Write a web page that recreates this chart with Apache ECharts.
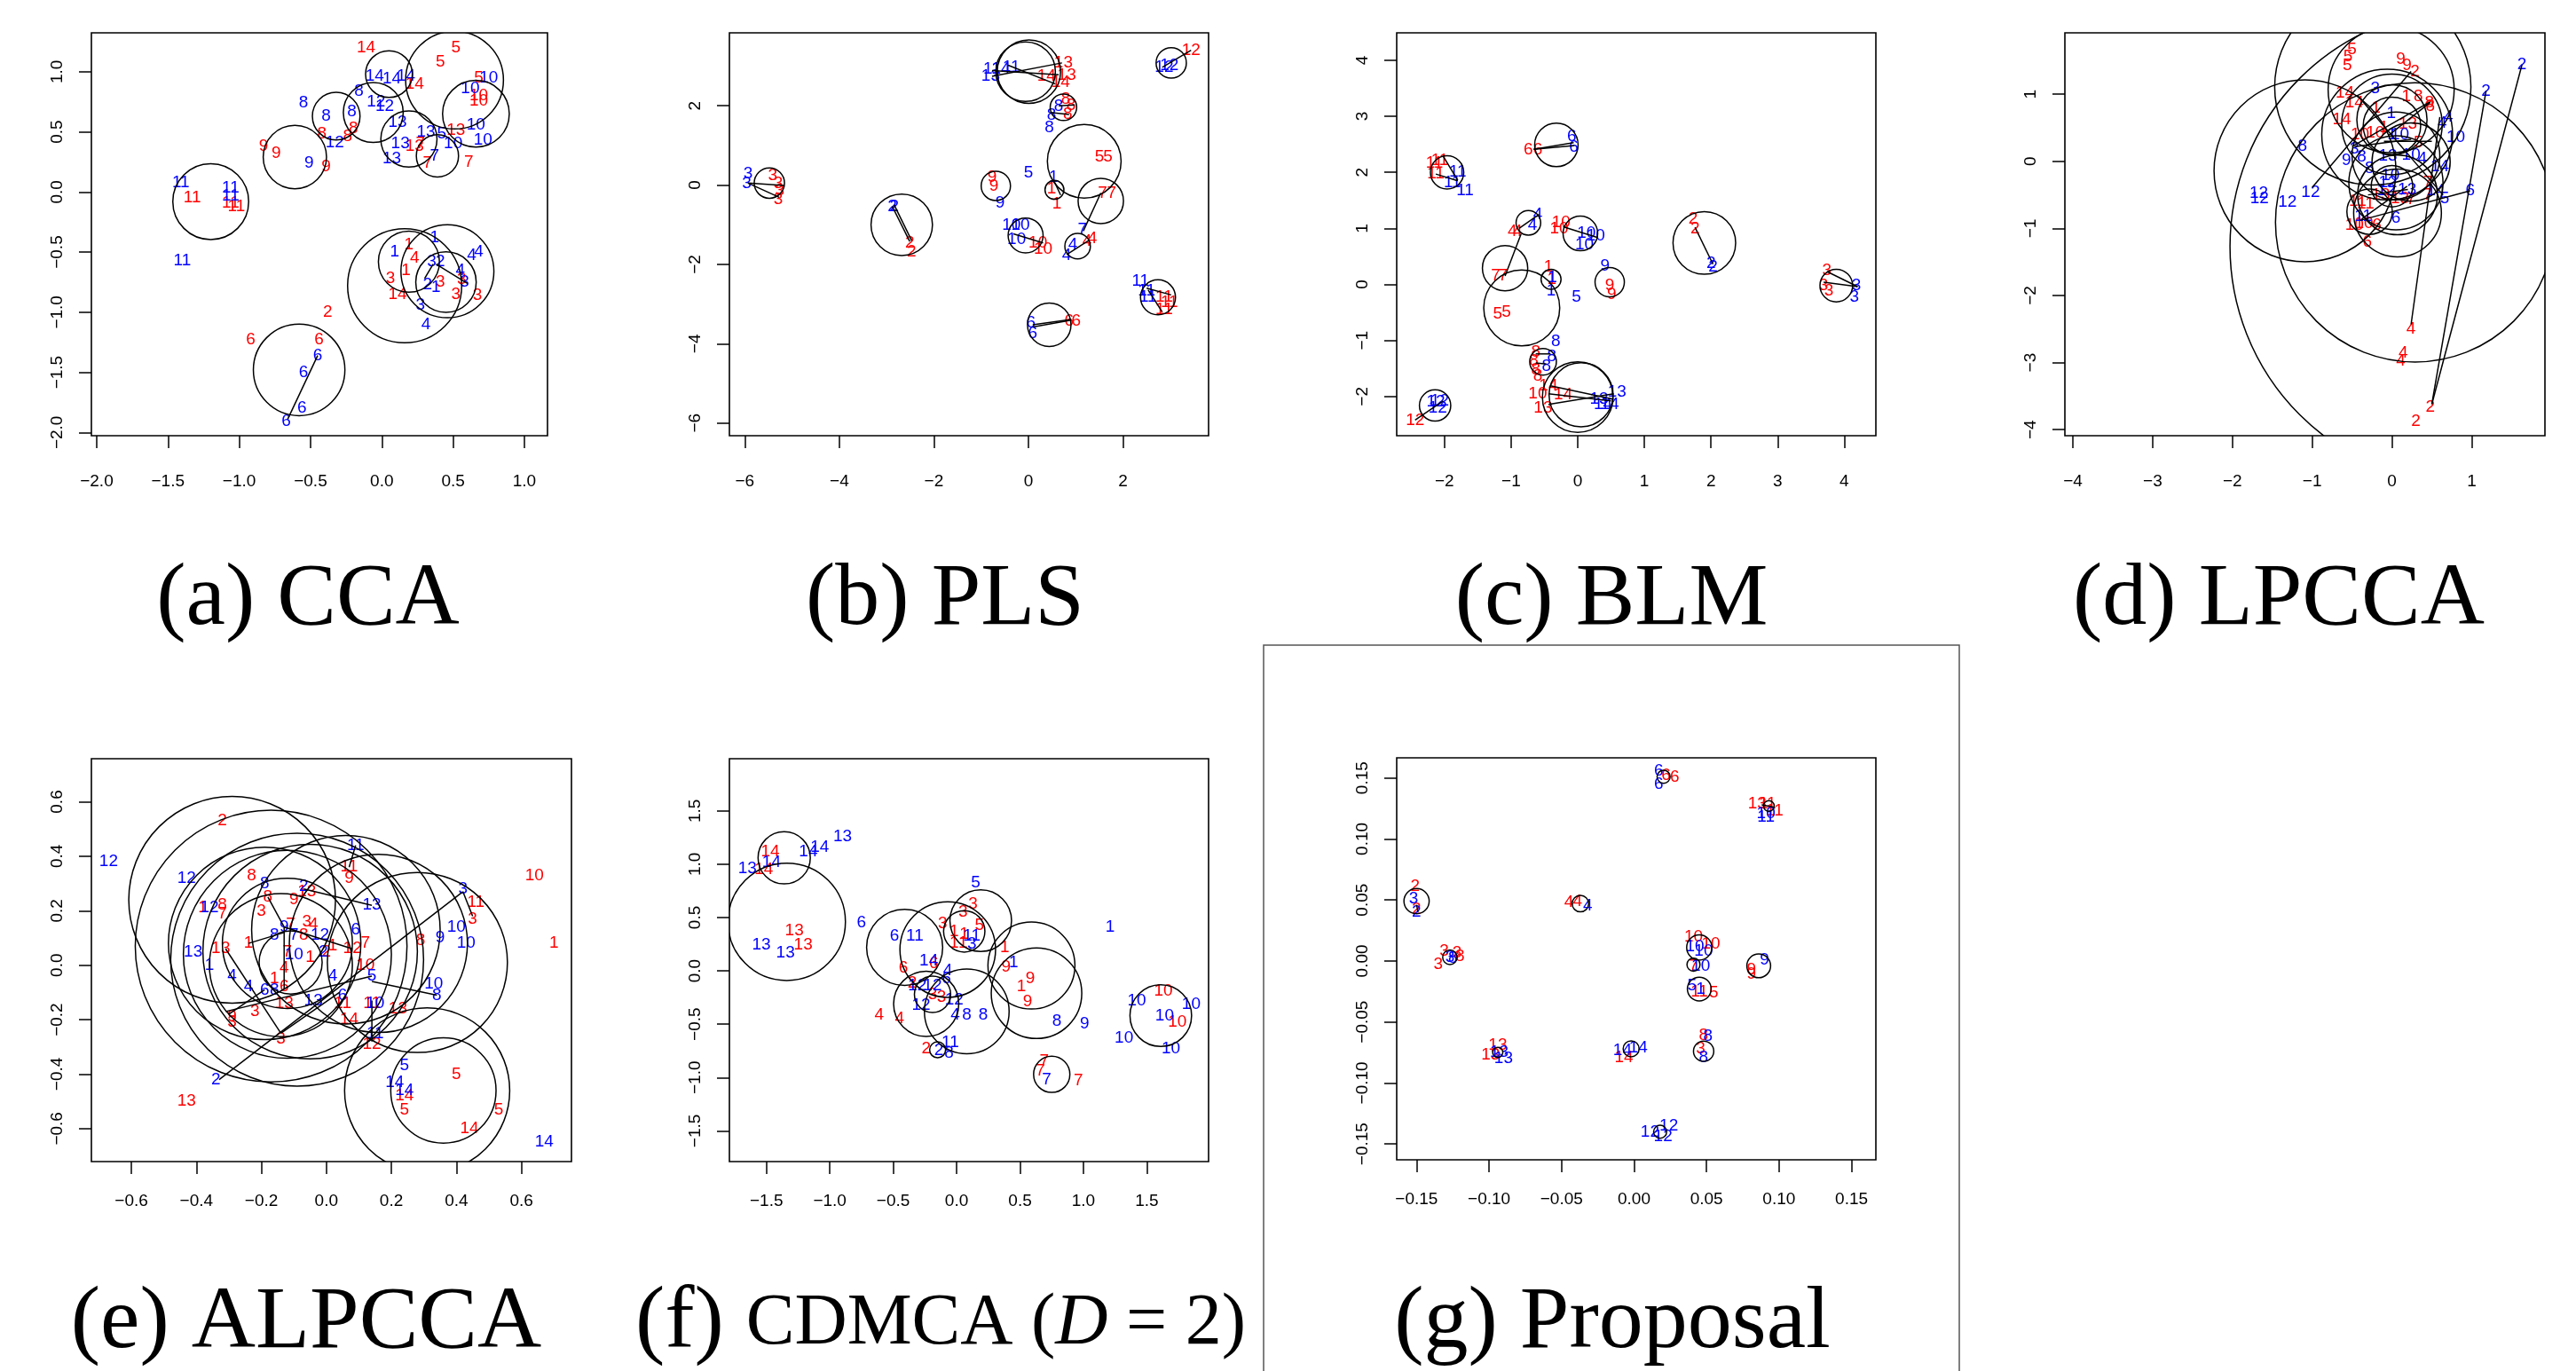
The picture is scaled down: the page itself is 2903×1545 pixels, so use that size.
<!DOCTYPE html>
<html>
<head>
<meta charset="utf-8">
<script src="https://cdn.jsdelivr.net/npm/echarts@6/dist/echarts.min.js"></script>
<style>
  html, body { margin: 0; padding: 0; background: #fff; }
  #main { width: 2903px; height: 1545px; }
</style>
</head>
<body>
<div id="main"></div>
<script>
// ---- data: [x, y, label] for the two views, [x, y, r] circles, [x1, y1, x2, y2] links ----

// (a) CCA
const aRed = [[-0.11,1.20,14],[0.52,1.20,5],[0.41,1.08,5],[0.68,0.95,5],[0.23,0.90,14],[0.68,0.80,10],[0.68,0.76,10],
  [-0.42,0.48,8],[-0.24,0.46,8],[-0.20,0.53,8],[-0.83,0.38,9],[-0.74,0.32,9],[-0.39,0.21,9],
  [0.52,0.51,13],[0.23,0.38,13],[0.27,0.40,7],[0.32,0.24,7],[0.61,0.25,7],
  [-1.33,-0.05,11],[-1.06,-0.09,11],[-1.02,-0.12,11],
  [0.19,-0.44,1],[0.23,-0.55,4],[0.17,-0.65,1],[0.06,-0.72,3],[0.11,-0.85,14],[0.41,-0.75,3],[0.56,-0.73,3],[0.52,-0.85,3],[0.67,-0.86,3],
  [-0.38,-1.00,2],[-0.92,-1.23,6],[-0.44,-1.23,6]];
const aBlue = [[-0.05,0.96,14],[0.07,0.94,14],[0.17,0.96,14],[0.75,0.95,10],[0.62,0.86,10],[-0.16,0.84,8],[-0.55,0.74,8],[-0.39,0.63,8],[-0.21,0.67,8],
  [-0.04,0.75,12],[0.02,0.71,12],[0.11,0.58,13],[0.31,0.50,13],[0.42,0.48,5],[0.66,0.56,10],[0.50,0.40,10],[0.71,0.43,10],[-0.33,0.41,12],[0.13,0.40,13],[0.07,0.28,13],[0.37,0.30,7],[-0.51,0.24,9],
  [-1.41,0.08,11],[-1.06,0.03,11],[-1.06,-0.03,11],[-1.40,-0.57,11],
  [0.37,-0.38,1],[0.09,-0.50,1],[0.35,-0.58,3],[0.41,-0.58,2],[0.63,-0.53,4],[0.68,-0.50,4],[0.55,-0.65,4],[0.58,-0.75,3],[0.32,-0.77,2],[0.38,-0.79,1],[0.27,-0.94,3],[0.31,-1.10,4],
  [-0.45,-1.36,6],[-0.55,-1.50,6],[-0.56,-1.80,6],[-0.67,-1.91,6]];
const aCircles = [[0.05,0.98,0.164],[0.51,0.93,0.343],[-0.32,0.63,0.167],[-0.06,0.66,0.21],[0.66,0.65,0.234],[0.19,0.44,0.197],[0.39,0.30,0.148],
  [-0.61,0.29,0.222],[-1.20,-0.08,0.266],[0.16,-0.78,0.40],[0.19,-0.58,0.214],[0.46,-0.66,0.326],[0.45,-0.75,0.212],[-0.58,-1.48,0.321]];
const aLines = [[-0.45,-1.36,-0.66,-1.89],[0.38,-0.60,0.60,-0.76],[0.30,-0.72,0.36,-0.60]];
const aTicks = [-2, -1.5, -1, -0.5, 0, 0.5, 1];

// (b) PLS
const bRed = [[3.44,3.40,12],[0.74,3.08,13],[0.81,2.77,13],[0.38,2.74,14],[0.68,2.59,14],[0.79,2.17,8],[0.90,2.02,8],[0.83,1.78,8],
  [1.50,0.72,5],[1.68,0.72,5],[-5.41,0.24,3],[-5.29,0.05,3],[-5.26,-0.14,3],[-5.29,-0.36,3],
  [-0.77,0.20,9],[-0.73,-0.02,9],[0.49,-0.10,1],[0.60,-0.48,1],[1.57,-0.20,7],[1.76,-0.20,7],
  [-2.51,-1.46,2],[-2.47,-1.69,2],[1.24,-1.42,4],[1.35,-1.35,4],[0.20,-1.46,10],[0.31,-1.61,10],
  [2.87,-2.83,11],[2.87,-3.13,11],[2.98,-2.95,11],[0.86,-3.43,6],[1.01,-3.43,6]];
const bBlue = [[2.87,2.97,12],[2.98,3.01,12],[-0.77,2.93,11],[-0.58,2.93,14],[-0.36,2.97,11],[-0.80,2.74,13],
  [0.49,1.76,8],[0.44,1.45,8],[0.64,1.98,8],[-5.93,0.28,3],[-5.96,0.05,3],[0.00,0.30,5],[0.53,0.20,1],[-0.60,-0.46,9],[-2.88,-0.54,2],[-2.84,-0.54,2],
  [-0.36,-1.02,10],[-0.17,-1.00,10],[-0.25,-1.37,10],[1.14,-1.12,7],[0.94,-1.50,4],[0.81,-1.77,4],
  [2.37,-2.41,11],[2.50,-2.67,11],[2.53,-2.83,11],[0.05,-3.47,6],[0.09,-3.73,6]];
const bCircles = [[-0.06,2.86,0.63],[0.01,2.86,0.67],[3.02,3.08,0.32],[0.74,1.96,0.28],[1.18,0.60,0.78],[-5.48,0.05,0.32],[-0.69,-0.02,0.31],
  [0.55,-0.12,0.20],[1.53,-0.40,0.48],[-2.68,-1.00,0.65],[-0.06,-1.27,0.37],[1.04,-1.54,0.27],[2.74,-2.83,0.37],[0.44,-3.52,0.46]];
const bLines = [[-0.77,2.74,0.71,3.08],[-0.43,3.02,0.57,2.55],[-0.77,2.89,0.64,2.78],[2.83,2.97,3.44,3.40],
  [-5.93,0.05,-5.17,-0.01],[-5.93,0.05,-5.27,-0.31],[-2.88,-0.54,-2.51,-1.42],[-2.84,-0.50,-2.47,-1.40],
  [0.53,0.13,0.68,-0.25],[1.16,-1.16,1.53,-0.20],[0.81,-1.75,1.27,-1.40],[-0.32,-1.23,0.31,-1.46],
  [2.50,-2.60,3.02,-2.77],[2.53,-2.64,2.83,-3.20],[0.09,-3.52,0.90,-3.39],[0.09,-3.58,0.88,-3.41],[0.64,2.00,0.98,2.02],[0.46,1.83,0.86,1.78]];
const bTicks = [-6, -4, -2, 0, 2];

// (c) BLM
const cRed = [[-2.15,2.16,11],[-2.07,2.21,11],[-2.13,1.97,11],[-0.74,2.40,6],[-0.60,2.40,6],[1.73,1.17,2],[1.76,1.00,2],
  [-0.98,0.94,4],[-0.90,0.94,4],[-0.25,1.11,10],[-0.28,1.00,10],[-0.44,0.31,1],[-1.23,0.15,7],[-1.12,0.15,7],[-0.39,0.09,1],
  [0.48,-0.02,9],[0.51,-0.18,9],[-1.20,-0.53,5],[-1.07,-0.50,5],[3.74,0.25,3],[3.69,-0.02,3],[3.77,-0.12,3],
  [-0.63,-1.20,8],[-0.66,-1.36,8],[-0.63,-1.52,8],[-0.60,-1.63,8],[-0.44,-1.81,14],[-0.22,-1.97,14],[-0.60,-1.95,10],[-0.52,-2.20,13],[-2.44,-2.42,12]];
const cBlue = [[-1.80,2.00,11],[-1.69,1.68,11],[-1.88,1.81,11],[-0.09,2.64,6],[-0.06,2.45,6],[-0.60,1.25,4],[-0.68,1.06,4],
  [0.13,0.92,10],[0.27,0.87,10],[0.10,0.71,10],[2.00,0.37,2],[2.03,0.31,2],[0.41,0.33,9],[-0.38,0.12,1],[-0.40,-0.12,1],[-0.02,-0.22,5],
  [4.18,-0.02,3],[4.15,-0.23,3],[-0.33,-1.02,8],[-0.39,-1.28,8],[-0.47,-1.46,8],
  [0.59,-1.92,13],[0.38,-2.14,14],[0.48,-2.14,14],[0.32,-2.05,13],[-2.13,-2.10,12],[-2.07,-2.08,12],[-2.10,-2.21,12]];
const cCircles = [[-0.32,2.49,0.326],[-1.96,2.00,0.25],[-0.74,1.10,0.185],[0.04,0.91,0.26],[1.90,0.74,0.47],[-1.09,0.29,0.34],[-0.40,0.09,0.15],
  [-0.84,-0.42,0.57],[0.48,0.04,0.22],[3.88,-0.02,0.245],[-0.52,-1.38,0.20],[0.00,-2.01,0.53],[0.05,-1.97,0.48],[-2.14,-2.16,0.235]];
const cLines = [[-2.02,2.29,-1.80,1.86],[-2.13,1.97,-1.80,1.85],[-0.66,2.41,-0.06,2.53],[-0.66,2.41,-0.05,2.48],[-0.88,1.00,-0.58,1.25],
  [-0.22,1.03,0.29,0.84],[1.76,1.02,2.03,0.36],[-1.09,0.15,-0.85,0.90],[3.74,0.23,4.20,-0.04],[3.69,0.04,4.20,-0.04],
  [-0.41,-1.81,0.54,-2.05],[-0.44,-1.95,0.50,-2.08],[-0.44,-2.14,0.54,-1.95],[-2.44,-2.42,-2.02,-2.08],[-0.63,-1.24,-0.41,-1.24],[-0.63,-1.40,-0.47,-1.42]];
const cTicks = [-2, -1, 0, 1, 2, 3, 4];

// (d) LPCCA
const dRed = [[-0.50,1.67,5],[-0.55,1.56,5],[-0.56,1.43,5],[0.11,1.52,9],[0.19,1.43,9],[0.29,1.34,2],
  [-0.59,1.02,14],[-0.47,0.87,14],[-0.63,0.62,14],[0.18,0.97,1],[0.33,0.97,8],[0.47,0.87,8],[0.48,0.82,8],
  [-0.40,0.40,10],[-0.21,0.42,10],[-0.20,0.80,1],[0.45,-0.32,7],[0.45,-0.50,7],[0.24,-0.57,7],
  [-0.43,-0.59,11],[-0.33,-0.64,11],[-0.14,-0.50,13],[0.10,-0.55,13],[-0.47,-0.95,10],[-0.35,-0.93,10],[-0.19,-0.95,6],[-0.31,-1.20,6],
  [0.24,-2.50,4],[0.14,-2.86,4],[0.11,-2.97,4],[0.48,-3.66,2],[0.30,-3.88,2],[0.33,0.28,5],[0.20,0.55,13],[-0.10,0.50,1]];
const dBlue = [[1.63,1.44,2],[1.18,1.05,2],[-0.21,1.09,3],[-0.01,0.71,1],[0.80,0.36,10],[0.63,0.57,4],[0.71,0.66,4],
  [-1.12,0.22,8],[-0.47,0.19,3],[-0.57,0.01,9],[-0.38,0.07,8],[-0.28,-0.10,8],[-0.05,0.08,13],[0.24,0.10,10],[0.38,0.04,4],
  [0.60,-0.08,14],[0.55,-0.44,14],[0.66,-0.55,5],[0.98,-0.44,6],[0.19,-0.42,13],[-0.02,-0.21,10],[-0.05,-0.32,12],[-0.07,-0.44,12],
  [-1.67,-0.48,12],[-1.66,-0.55,12],[-1.31,-0.61,12],[-1.02,-0.46,12],[-0.36,-0.82,11],[0.05,-0.84,6],[0.10,0.40,10],[0.00,0.40,1]];
const dCircles = [[-1.09,-0.14,1.14],[0.29,-0.91,1.75],[0.95,-1.27,2.98],[-0.24,1.11,1.23],[-0.01,1.07,0.79],[-0.06,0.40,0.82],
  [0.00,0.53,0.36],[0.00,0.62,0.44],[0.00,0.55,0.63],[0.05,0.08,0.55],[0.24,-0.01,0.49],[0.05,-0.32,0.59],[0.07,-0.50,0.50],
  [0.07,-0.77,0.55],[-0.28,-0.75,0.285],[0.00,-0.37,0.26]];
const dLines = [[1.63,1.44,0.50,-3.62],[1.18,1.05,0.50,-3.62],[0.60,0.66,0.24,-2.43],[0.98,-0.44,-0.40,-0.88],[-1.00,-0.39,0.24,1.34],
  [-0.50,0.22,0.48,0.89],[-0.43,0.98,0.64,-0.50],[-0.38,-0.86,0.19,-0.37],[-0.47,0.22,0.24,0.33],[-0.04,0.39,0.48,0.88],
  [-0.10,0.30,0.50,0.30],[-0.30,-0.50,0.20,-0.42]];
const dTicks = [-4, -3, -2, -1, 0, 1];

// (e) ALPCCA
const eRed = [[-0.32,0.53,2],[-0.23,0.33,8],[-0.38,0.21,1],[-0.32,0.22,8],[-0.32,0.19,7],[-0.20,0.20,3],[-0.18,0.25,8],[-0.10,0.24,9],[-0.06,0.27,13],
  [-0.11,0.15,7],[-0.06,0.16,3],[-0.04,0.15,4],[-0.07,0.11,8],[-0.34,0.06,1],[-0.31,0.06,3],[-0.24,0.08,1],[-0.12,0.05,7],[-0.05,0.03,1],
  [0.00,0.05,2],[0.02,0.07,1],[0.08,0.06,12],[0.12,0.08,7],[0.12,0.00,10],
  [-0.13,-0.01,4],[-0.16,-0.05,1],[-0.13,-0.08,6],[-0.13,-0.14,13],[0.05,-0.14,11],[0.07,-0.20,14],[0.14,-0.14,11],[0.22,-0.16,13],
  [-0.29,-0.19,9],[-0.22,-0.17,3],[-0.29,-0.21,3],[-0.14,-0.27,3],[0.14,-0.29,12],
  [0.07,0.36,11],[0.07,0.32,9],[0.29,0.09,8],[0.46,0.23,11],[0.45,0.17,3],[0.64,0.33,10],[0.70,0.08,1],
  [0.40,-0.40,5],[0.24,-0.48,14],[0.24,-0.53,5],[0.53,-0.53,5],[0.44,-0.60,14],[-0.43,-0.50,13]];
const eBlue = [[-0.67,0.38,12],[-0.43,0.32,12],[-0.36,0.21,12],[0.09,0.44,11],[-0.19,0.30,8],[-0.07,0.29,2],[0.14,0.22,13],[0.09,0.13,6],
  [0.35,0.10,9],[0.40,0.14,10],[0.43,0.08,10],[0.42,0.28,3],
  [-0.16,0.11,8],[-0.13,0.14,9],[-0.10,0.11,7],[-0.02,0.11,12],[-0.41,0.05,13],[-0.36,0.00,1],[-0.10,0.04,10],[-0.01,0.05,2],
  [-0.29,-0.04,4],[-0.24,-0.08,4],[-0.19,-0.09,6],[-0.16,-0.09,8],[0.02,-0.04,4],[0.05,-0.11,6],[-0.04,-0.13,13],[0.14,-0.04,5],
  [0.15,-0.14,10],[0.33,-0.07,10],[0.34,-0.11,8],[0.15,-0.25,11],
  [0.24,-0.37,5],[0.21,-0.43,14],[0.24,-0.46,14],[-0.34,-0.42,2],[0.67,-0.65,14]];
const eCircles = [[-0.29,0.24,0.318],[-0.17,0.07,0.418],[-0.09,0.02,0.389],[0.06,0.13,0.29],[-0.05,0.05,0.33],[0.16,0.08,0.274],[0.28,0.01,0.277],
  [-0.12,0.08,0.20],[-0.14,0.00,0.22],[-0.11,0.01,0.097],[0.31,-0.46,0.254],[0.36,-0.46,0.162],[-0.12,0.04,0.32],[-0.19,0.08,0.296]];
const eLines = [[0.42,0.27,-0.33,-0.42],[0.42,0.27,0.45,0.18],[-0.31,-0.17,0.14,-0.04],[0.14,-0.06,0.34,-0.11],[-0.31,0.06,-0.14,-0.25],
  [-0.14,-0.25,0.04,-0.10],[-0.07,0.28,0.14,0.22],[-0.24,0.08,-0.13,0.12],[0.07,0.36,0.09,0.44],[0.14,-0.13,0.14,-0.28],
  [-0.13,0.14,0.08,0.06],[-0.30,-0.18,-0.19,-0.09],[-0.13,0.14,-0.13,-0.09],[-0.18,0.25,-0.13,0.14]];
const eTicks = [-0.6, -0.4, -0.2, 0, 0.2, 0.4, 0.6];

// (f) CDMCA (D = 2)
const fRed = [[-1.47,1.12,14],[-1.52,0.95,14],[-1.28,0.38,13],[-1.21,0.24,13],[-0.42,0.03,6],[0.13,0.63,3],[0.05,0.55,3],[-0.11,0.44,3],
  [-0.02,0.37,1],[0.06,0.34,1],[0.18,0.43,5],[-0.02,0.26,1],[0.05,0.26,1],[0.38,0.22,1],[0.39,0.04,9],[0.58,-0.07,9],[0.56,-0.29,9],[0.51,-0.15,1],
  [-0.18,0.07,6],[-0.35,-0.11,2],[-0.12,-0.25,3],[-0.19,-0.22,3],[-0.61,-0.41,4],[-0.45,-0.45,4],[-0.24,-0.73,2],
  [1.63,-0.19,10],[1.74,-0.48,10],[0.69,-0.85,7],[0.66,-0.94,7],[0.96,-1.03,7]];
const fBlue = [[-0.90,1.26,13],[-1.17,1.12,14],[-1.08,1.16,14],[-1.46,1.02,14],[-1.65,0.96,13],[-1.54,0.24,13],[-1.35,0.17,13],[-0.75,0.45,6],
  [-0.49,0.33,6],[-0.33,0.33,11],[0.15,0.83,5],[1.21,0.41,1],[0.12,0.33,11],[0.12,0.25,3],[-0.22,0.09,14],[-0.07,0.00,4],[-0.08,-0.07,6],
  [-0.31,-0.14,12],[-0.19,-0.14,12],[-0.02,-0.27,12],[-0.28,-0.32,12],
  [-0.01,-0.41,4],[0.08,-0.41,8],[0.21,-0.41,8],[0.79,-0.47,8],[1.01,-0.50,9],[0.45,0.08,1],[-0.05,-0.67,11],[-0.14,-0.75,2],[-0.06,-0.77,8],
  [1.42,-0.28,10],[1.85,-0.31,10],[1.32,-0.63,10],[1.69,-0.73,10],[1.64,-0.42,10],[0.71,-1.02,7]];
const fCircles = [[-1.36,1.06,0.206],[-1.34,0.46,0.463],[-0.41,0.22,0.30],[-0.07,0.20,0.377],[0.19,0.47,0.243],[0.06,0.37,0.163],[0.59,0.05,0.343],
  [0.63,-0.21,0.357],[0.08,-0.38,0.334],[-0.24,-0.31,0.257],[-0.19,-0.22,0.143],[-0.15,-0.74,0.063],[0.75,-0.97,0.143],[1.61,-0.42,0.243]];
const fLines = [];
const fTicks = [-1.5, -1, -0.5, 0, 0.5, 1, 1.5];

// (g) Proposal
const gRed = [[0.022,0.152,6],[0.028,0.151,6],[0.085,0.129,13],[0.092,0.129,11],[0.097,0.123,11],[-0.151,0.061,2],[-0.150,0.042,2],
  [-0.045,0.048,4],[-0.039,0.049,4],[-0.131,0.008,3],[-0.122,0.007,3],[-0.120,0.004,8],[-0.135,-0.003,3],[0.041,0.020,10],[0.053,0.014,10],
  [0.041,-0.004,7],[0.081,-0.007,9],[0.081,-0.011,9],[0.055,-0.026,5],[0.045,-0.025,11],
  [0.048,-0.061,8],[0.046,-0.072,3],[-0.094,-0.069,13],[-0.099,-0.077,13],[-0.007,-0.079,14]];
const gBlue = [[0.017,0.156,6],[0.017,0.145,6],[0.091,0.121,10],[0.091,0.118,11],[-0.152,0.051,3],[-0.150,0.040,2],[-0.032,0.045,4],
  [-0.127,0.003,3],[-0.125,0.002,8],[0.042,0.012,10],[0.048,0.008,10],[0.046,-0.004,10],[0.090,0.001,9],[0.040,-0.020,5],[0.046,-0.023,1],
  [0.051,-0.062,8],[0.048,-0.079,8],[-0.093,-0.075,13],[-0.090,-0.080,13],[-0.008,-0.073,14],[0.003,-0.071,14],
  [0.024,-0.135,12],[0.011,-0.140,12],[0.020,-0.144,12]];
const gCircles = [[0.0204,0.151,0.0045],[0.093,0.127,0.0037],[-0.150,0.049,0.0087],[-0.037,0.047,0.0057],[-0.127,0.003,0.005],
  [0.045,0.011,0.0087],[0.041,-0.003,0.0045],[0.086,-0.004,0.0082],[0.045,-0.023,0.0082],[0.048,-0.074,0.007],[-0.002,-0.072,0.0055],
  [-0.094,-0.075,0.0035],[0.018,-0.140,0.0045]];
const gLines = [[0.088,0.128,0.097,0.126],[-0.150,0.046,-0.149,0.040]];
const gTicks = [-0.15, -0.1, -0.05, 0, 0.05, 0.1, 0.15];

// ---- layout of the seven panels ----
const boxes = [
  { left: 103,  top: 37,  width: 514, height: 454, x: [-2.037, 1.162],  y: [-2.027, 1.323],  dec: 1, xm: 42 },
  { left: 822,  top: 37,  width: 540, height: 454, x: [-6.325, 3.81],   y: [-6.318, 3.838],  dec: 0, xm: 42 },
  { left: 1574, top: 37,  width: 540, height: 454, x: [-2.716, 4.474],  y: [-2.70, 4.49],    dec: 0, xm: 42 },
  { left: 2327, top: 37,  width: 541, height: 454, x: [-4.1, 1.918],    y: [-4.09, 1.916],   dec: 0, xm: 42 },
  { left: 103,  top: 855, width: 541, height: 454, x: [-0.723, 0.754],  y: [-0.721, 0.758],  dec: 1, xm: 35 },
  { left: 822,  top: 855, width: 540, height: 454, x: [-1.792, 1.987],  y: [-1.788, 1.989],  dec: 1, xm: 35 },
  { left: 1574, top: 854, width: 540, height: 453, x: [-0.1637, 0.1668], y: [-0.163, 0.1665], dec: 2, xm: 35 }
];
const panels = [
  [aRed, aBlue, aCircles, aLines, aTicks],
  [bRed, bBlue, bCircles, bLines, bTicks],
  [cRed, cBlue, cCircles, cLines, cTicks],
  [dRed, dBlue, dCircles, dLines, dTicks],
  [eRed, eBlue, eCircles, eLines, eTicks],
  [fRed, fBlue, fCircles, fLines, fTicks],
  [gRed, gBlue, gCircles, gLines, gTicks]
];
const captions = [
  { text: '(a) CCA', x: 347, y: 627 },
  { text: '(b) PLS', x: 1065, y: 627 },
  { text: '(c) BLM', x: 1816, y: 627 },
  { text: '(d) LPCCA', x: 2568, y: 627 },
  { text: '(e) ALPCCA', x: 345, y: 1442 },
  { text: '{a|(f) }{b|CDMCA (}{i|D}{b| = 2)}', x: 1060, y: 1442 },
  { text: '(g) Proposal', x: 1817, y: 1442 }
];

const SANS = '"Liberation Sans", Arial, Helvetica, sans-serif';
const SERIF = '"Liberation Serif", "Times New Roman", Times, serif';
const LABEL_FONT = '19px ' + SANS;

function tickFormatter(dec) {
  return function (v) {
    const s = Math.abs(v).toFixed(dec);
    return (v < 0 ? '\u2212' : '') + s;
  };
}

function textRenderer(color) {
  return function (params, api) {
    const p = api.coord([api.value(0), api.value(1)]);
    return {
      type: 'text',
      x: p[0],
      y: p[1],
      style: {
        text: String(api.value(2)),
        fill: color,
        font: LABEL_FONT,
        align: 'center',
        verticalAlign: 'middle',
        textAlign: 'center',
        textVerticalAlign: 'middle'
      }
    };
  };
}

function circleRenderer(params, api) {
  const c = api.coord([api.value(0), api.value(1)]);
  const r = api.size([api.value(2), 0])[0];
  return {
    type: 'circle',
    shape: { cx: c[0], cy: c[1], r: r },
    style: { fill: 'none', stroke: '#000', lineWidth: 1.5 }
  };
}

function lineRenderer(params, api) {
  const p1 = api.coord([api.value(0), api.value(1)]);
  const p2 = api.coord([api.value(2), api.value(3)]);
  return {
    type: 'line',
    shape: { x1: p1[0], y1: p1[1], x2: p2[0], y2: p2[1] },
    style: { stroke: '#000', lineWidth: 1.5 }
  };
}

const grids = [], xAxes = [], yAxes = [], series = [];

boxes.forEach(function (b, i) {
  const ticks = panels[i][4];
  grids.push({
    left: b.left, top: b.top, width: b.width, height: b.height,
    show: true, borderColor: '#000', borderWidth: 1.6, backgroundColor: 'transparent',
    containLabel: false, outerBoundsMode: 'none'
  });
  xAxes.push({
    type: 'value', gridIndex: i, min: b.x[0], max: b.x[1], position: 'bottom', offset: 0,
    axisLine: { show: false, onZero: false }, splitLine: { show: false },
    axisTick: { show: true, length: 14, lineStyle: { color: '#000', width: 1.5 }, customValues: ticks },
    axisLabel: { customValues: ticks, formatter: tickFormatter(b.dec), margin: b.xm, fontSize: 19, fontFamily: SANS, color: '#000' }
  });
  yAxes.push({
    type: 'value', gridIndex: i, min: b.y[0], max: b.y[1], position: 'left', offset: 0,
    axisLine: { show: false, onZero: false }, splitLine: { show: false },
    axisTick: { show: true, length: 14, lineStyle: { color: '#000', width: 1.5 }, customValues: ticks },
    axisLabel: { customValues: ticks, formatter: tickFormatter(b.dec), rotate: 90, margin: 29, fontSize: 19, fontFamily: SANS, color: '#000' }
  });

  const common = { type: 'custom', xAxisIndex: i, yAxisIndex: i, clip: true, silent: true };
  series.push(Object.assign({}, common, { data: panels[i][0], encode: { x: 0, y: 1 }, renderItem: textRenderer('#ff0000') }));
  series.push(Object.assign({}, common, { data: panels[i][1], encode: { x: 0, y: 1 }, renderItem: textRenderer('#0000ff') }));
  series.push(Object.assign({}, common, { data: panels[i][2], encode: { x: 0, y: 1 }, renderItem: circleRenderer }));
  series.push(Object.assign({}, common, { data: panels[i][3], encode: { x: [0, 2], y: [1, 3] }, renderItem: lineRenderer }));
});

const titles = captions.map(function (c) {
  return {
    text: c.text, left: c.x, top: c.y, textAlign: 'center', padding: 0,
    textStyle: {
      fontFamily: SERIF, fontSize: 100, fontWeight: 'normal', color: '#000',
      rich: {
        a: { fontFamily: SERIF, fontSize: 100, color: '#000' },
        b: { fontFamily: SERIF, fontSize: 82, color: '#000' },
        i: { fontFamily: SERIF, fontSize: 82, fontStyle: 'italic', color: '#000' }
      }
    }
  };
});

const chart = echarts.init(document.getElementById('main'), null, { renderer: 'canvas' });
chart.setOption({
  backgroundColor: '#fff',
  animation: false,
  title: titles,
  grid: grids,
  xAxis: xAxes,
  yAxis: yAxes,
  series: series,
  graphic: [{
    type: 'rect', silent: true,
    shape: { x: 1424, y: 727, width: 784, height: 840 },
    style: { fill: 'none', stroke: '#555', lineWidth: 1.5 }
  }]
});
</script>
</body>
</html>
